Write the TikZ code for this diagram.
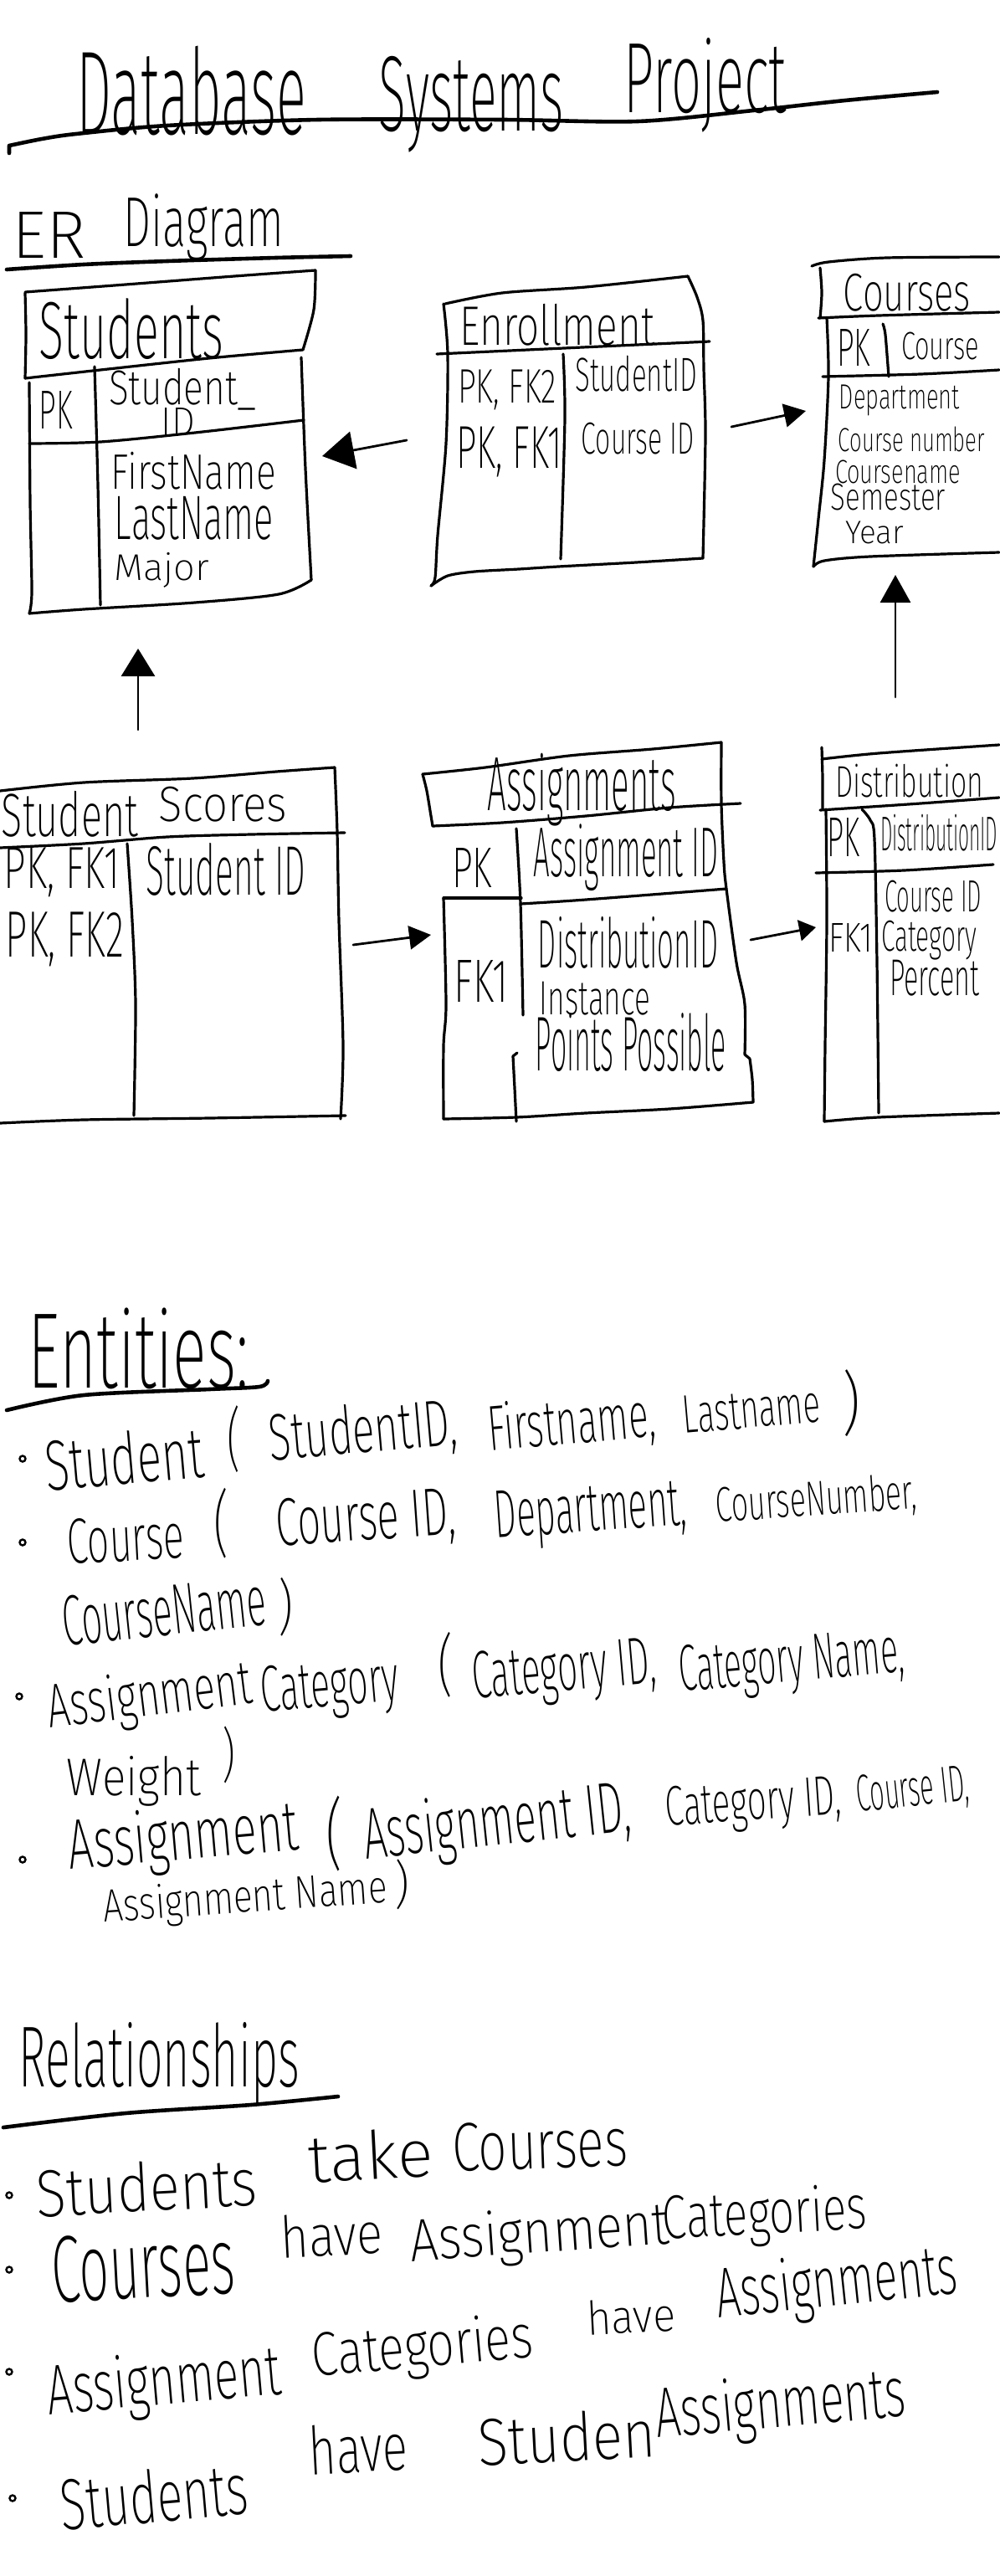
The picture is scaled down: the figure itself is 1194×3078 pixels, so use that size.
\documentclass[tikz,border=0pt]{standalone}
\usepackage{graphicx}
\usepackage{fontspec}
\usetikzlibrary{arrows.meta}
\newfontfamily\hand{Fira Sans ExtraLight}
% a word set in the hand font and stretched to a given box (width, total height)
\newcommand\hw[3]{\resizebox*{#1pt}{#2pt}{\hand #3}}
% \word{name}{centre}{width}{height}{rotation}{text}
\newcommand\word[6]{\node[txt,rotate=#5] (#1) at (#2) {\hw{#3}{#4}{#6}};}

\begin{document}
\begin{tikzpicture}[x=1pt,y=-1pt,
  pen/.style={line width=3.2pt, line cap=round, line join=round},
  rule/.style={line width=4.6pt, line cap=round, line join=round},
  txt/.style={inner sep=0pt, outer sep=0pt},
  link/.style 2 args={line width=2.8pt, line cap=round,
    -{Triangle[length=#1pt,width=#2pt]}},
  bullet/.style={circle, draw, line width=2.4pt, minimum size=7pt, inner sep=0pt},
  sm/.style={smooth, tension=0.5}]

\fill[white] (0,0) rectangle (1194,3078);
\useasboundingbox (0,0) rectangle (1194,3078);

% ---------------- title ----------------
\word{tdb}{228.5,108.5}{275}{107}{0}{Database}
\word{tsy}{563.5,124.5}{221}{115}{0}{Systems}
\word{tpr}{843,101.5}{194}{113}{0}{Project}
\draw[rule] (11,183) -- (11,174)
  plot[sm] coordinates {(11,174) (50,166) (91,160) (200,150) (381,143) (600,143) (762,145) (900,132) (1010,120) (1120,110)};

\word{ter}{59,280.5}{88}{55}{0}{ER}
\word{tdi}{243.5,272}{191}{80}{0}{Diagram}
\draw[rule] plot[sm] coordinates {(8,322) (100,316) (200,312) (330,308) (419,306)};

% ---------------- Students ----------------
\draw[pen] plot[sm] coordinates {(30,349) (150,340) (280,330) (377,323)};
\draw[pen] plot[sm] coordinates {(377,323) (375,370) (362,418)};
\draw[pen] plot[sm] coordinates {(362,418) (250,428) (120,442) (30,452)};
\draw[pen] plot[sm] coordinates {(30,452) (31,400) (30,350)};
\draw[pen] plot[sm] coordinates {(35,457) (36,600) (38,707) (35,733)};
\draw[pen] plot[sm] coordinates {(360,427) (365,560) (372,693)};
\draw[pen] plot[sm] coordinates {(35,733) (100,728) (233,720) (333,710) (372,693)};
\draw[pen] plot[sm] coordinates {(113,438) (117,580) (120,723)};
\draw[pen] plot[sm] coordinates {(35,530) (120,528) (233,517) (363,502)};
\word{stn}{157,393.5}{220}{73}{0}{Students}
\word{stpk}{67,489.5}{40}{45}{0}{PK}
\word{stid1}{218.5,465}{177}{50}{0}{Student\_}
\word{stid2}{213,503.5}{40}{33}{0}{ID}
\word{stfn}{231.5,562.5}{197}{45}{0}{FirstName}
\word{stln}{232,619}{190}{52}{0}{LastName}
\word{stmj}{193.5,681}{113}{42}{0}{Major}

% ---------------- Enrollment ----------------
\draw[pen] plot[sm] coordinates {(532,363) (600,350) (700,343) (822,330)};
\draw[pen] plot[sm] coordinates {(822,330) (833,355) (840,383) (841,440) (843,520) (840,667)};
\draw[pen] (522,423) -- (848,408);
\draw[pen] plot[sm] coordinates {(530,363) (535,423) (533,530) (523,640) (520,690) (515,700)};
\draw[pen] plot[sm] coordinates {(515,700) (535,688) (567,683) (620,680) (667,677) (760,672) (840,667)};
\draw[pen] plot[sm] coordinates {(673,423) (675,500) (670,668)};
\word{enn}{666,388}{232}{50}{0}{Enrollment}
\word{enk1}{606,466}{118}{48}{0}{PK, FK2}
\word{enk2}{608.5,540}{127}{60}{0}{PK, FK1}
\word{ena1}{760.5,446.5}{145}{43}{0}{StudentID}
\word{ena2}{762.5,524}{135}{38}{0}{Course ID}

% ---------------- Courses ----------------
\draw[pen] plot[sm] coordinates {(970,318) (990,313) (1060,308) (1194,307)};
\draw[pen] plot[sm] coordinates {(980,320) (982,350) (980,380)};
\draw[pen] plot[sm] coordinates {(978,380) (1050,377) (1194,373)};
\draw[pen] plot[sm] coordinates {(988,380) (990,450) (985,550) (978,620) (972,677)};
\draw[pen] plot[sm] coordinates {(1055,387) (1058,400) (1062,450)};
\draw[pen] plot[sm] coordinates {(983,450) (1100,447) (1194,442)};
\draw[pen] plot[sm] coordinates {(972,677) (985,670) (1040,665) (1194,660)};
\word{con}{1084,349.5}{152}{45}{0}{Courses}
\word{copk}{1020,415}{40}{44}{0}{PK}
\word{coid}{1123.5,413.5}{93}{33}{0}{Course}
\word{coa1}{1075,478.5}{144}{37}{0}{Department}
\word{coa2}{1089.5,525}{175}{30}{0}{Course number}
\word{coa3}{1073,564}{150}{28}{0}{Coursename}
\word{coa4}{1061.5,594}{137}{32}{0}{Semester}
\word{coa5}{1045,636.5}{70}{27}{0}{Year}

% ---------------- Student Scores ----------------
\draw[pen] plot[sm] coordinates {(0,945) (100,935) (230,930) (330,922) (400,917)};
\draw[pen] plot[sm] coordinates {(400,917) (403,995) (405,1100) (410,1250) (407,1337)};
\draw[pen] plot[sm] coordinates {(0,1013) (100,1008) (200,1000) (300,997) (412,995)};
\draw[pen] plot[sm] coordinates {(152,1008) (158,1100) (162,1200) (160,1333)};
\draw[pen] plot[sm] coordinates {(0,1342) (100,1338) (250,1336) (413,1333)};
\word{scn1}{83.5,972.5}{163}{55}{0}{Student}
\word{scn2}{266.5,961}{153}{42}{0}{Scores}
\word{sck1}{74,1042.5}{138}{59}{0}{PK, FK1}
\word{sck2}{77.5,1122.5}{141}{65}{0}{PK, FK2}
\word{sca1}{270,1038.5}{190}{63}{0}{Student ID}

% ---------------- Assignments ----------------
\draw[pen] plot[sm] coordinates {(505,925) (580,917) (680,903) (780,895) (862,887)};
\draw[pen] plot[sm] coordinates {(505,925) (510,945) (515,975) (517,987)};
\draw[pen] plot[sm] coordinates {(517,987) (600,983) (700,975) (800,965) (885,960)};
\draw[pen] plot[sm] coordinates {(862,887) (862,960) (865,1030) (868,1062) (880,1150) (890,1200) (890,1260)}
  -- (896,1265) plot[sm] coordinates {(896,1265) (899,1290) (900,1317)};
\draw[pen] plot[sm] coordinates {(530,1073) (533,1200) (530,1250) (530,1337)};
\draw[pen] plot[sm] coordinates {(617,990) (622,1080) (625,1213)};
\draw[pen] (618,1258) -- (613,1262) -- (615,1300) -- (617,1340);
\draw[pen] (530,1073) -- (623,1073);
\draw[pen] plot[sm] coordinates {(622,1080) (700,1075) (868,1062)};
\draw[pen] plot[sm] coordinates {(530,1337) (617,1335) (700,1330) (800,1325) (900,1317)};
\word{asn}{695.5,943.5}{225}{87}{0}{Assignments}
\word{aspk}{564,1036.5}{48}{47}{0}{PK}
\word{asid}{748,1025}{220}{80}{0}{Assignment ID}
\word{asfk}{575.5,1172}{65}{50}{0}{FK1}
\word{asa1}{750.5,1126}{215}{62}{0}{DistributionID}
\word{asa2}{711,1193}{132}{40}{0}{Instance}
\word{asa3}{754,1245}{228}{70}{0}{Points Possible}

% ---------------- Distribution ----------------
\draw[pen] plot[sm] coordinates {(982,893) (983,930) (983,967)};
\draw[pen] plot[sm] coordinates {(982,907) (1050,900) (1194,890)};
\draw[pen] plot[sm] coordinates {(980,968) (1100,960) (1194,953)};
\draw[pen] plot[sm] coordinates {(987,967) (988,1100) (986,1250) (985,1340)};
\draw[pen] plot[sm] coordinates {(1030,967) (1040,980) (1045,1003) (1048,1150) (1050,1330)};
\draw[pen] plot[sm] coordinates {(975,1043) (1080,1040) (1187,1033)};
\draw[pen] plot[sm] coordinates {(985,1340) (1050,1335) (1194,1330)};
\word{dsn}{1086.5,933}{177}{40}{0}{Distribution}
\word{dspk}{1007.5,1000}{39}{46}{0}{PK}
\word{dsid}{1122,995}{140}{44}{0}{DistributionID}
\word{dsa1}{1115,1071}{116}{38}{0}{Course ID}
\word{dsfk}{1016.5,1120}{53}{34}{0}{FK1}
\word{dsa2}{1110,1123.5}{114}{47}{0}{Category}
\word{dsa3}{1116.5,1168.5}{107}{43}{0}{Percent}

% ---------------- relationship arrows ----------------
\coordinate (enr-w) at (486,526);   \coordinate (stu-e) at (385,545);
\coordinate (enr-e) at (874,510);   \coordinate (crs-w) at (963,491);
\coordinate (scr-n) at (165,872);   \coordinate (stu-s) at (165,775);
\coordinate (dst-n) at (1070,833);  \coordinate (crs-s) at (1070,687);
\coordinate (scr-e) at (422,1129);  \coordinate (asg-w) at (515,1117);
\coordinate (asg-e) at (897,1123);  \coordinate (dst-w) at (975,1108);
\draw[link={38}{45}] (enr-w) -- (stu-e);
\draw[link={26}{28}] (enr-e) -- (crs-w);
\draw[link={33}{40}] (scr-n) -- (stu-s);
\draw[link={33}{36}] (dst-n) -- (crs-s);
\draw[link={26}{28}] (scr-e) -- (asg-w);
\draw[link={20}{25}] (asg-e) -- (dst-w);

% ---------------- Entities ----------------
\word{hent}{165.5,1611.5}{263}{97}{0}{Entities:}
\draw[rule] plot[sm] coordinates {(8,1685) (100,1667) (250,1660) (310,1657) (320,1650)};

\node[bullet] (bl1) at (27,1743) {};
\word{e1}{148,1742}{190}{64}{5}{Student}
\word{e2}{280,1720}{16}{80}{0}{(}
\word{e3}{434,1712}{225}{70}{5}{StudentID,}
\word{e4}{683,1702}{200}{68}{5}{Firstname,}
\word{e5}{898,1684}{165}{45}{5}{Lastname}
\word{e6}{1017,1677}{22}{80}{0}{)}

\node[bullet] (bl2) at (27,1843) {};
\word{e7}{150,1839}{140}{54}{3}{Course}
\word{e8}{265,1820}{18}{84}{0}{(}
\word{e9}{437,1818}{215}{68}{4}{Course ID,}
\word{e10}{706,1810}{230}{72}{4}{Department,}
\word{e11}{975,1793}{240}{52}{4}{CourseNumber,}
\word{e12}{196,1925}{245}{60}{6}{CourseName}
\word{e13}{342,1920}{18}{70}{0}{)}

\node[bullet] (bl3) at (23,2027) {};
\word{e14}{179,2030}{245}{70}{7}{Assignment}
\word{e15}{394,2019}{165}{70}{5}{Category}
\word{e16}{532,1989}{18}{78}{0}{(}
\word{e17}{674,2000}{220}{72}{5}{Category ID,}
\word{e18}{946,1990}{270}{70}{5}{Category Name,}
\word{e19}{160,2128}{160}{60}{0}{Weight}
\word{e20}{274,2097}{16}{68}{0}{)}

\node[bullet] (bl4) at (27,2222) {};
\word{e21}{219,2199}{275}{80}{5}{Assignment}
\word{e22}{400,2191}{20}{90}{0}{(}
\word{e23}{594,2181}{320}{82}{6}{Assignment ID,}
\word{e24}{900,2158}{210}{60}{4}{Category ID,}
\word{e25}{1091,2141}{135}{52}{6}{Course ID,}
\word{e26}{293,2270}{340}{52}{4}{Assignment Name}
\word{e27}{480,2252}{18}{60}{0}{)}

% ---------------- Relationships ----------------
\word{hrel}{190.5,2465}{335}{98}{0}{Relationships}
\draw[rule] plot[sm] coordinates {(4,2542) (150,2525) (300,2515) (404,2505)};

\node[bullet] (bl5) at (11,2623) {};
\word{r1}{175,2613}{265}{60}{3}{Students}
\word{r2}{443,2575}{150}{60}{3}{take}
\word{r3}{645,2563}{210}{58}{2}{Courses}

\node[bullet] (bl6) at (11,2712) {};
\word{r4}{171,2707}{220}{80}{3}{Courses}
\word{r5}{396,2670}{122}{52}{3}{have}
\word{r6}{645,2672}{310}{68}{4}{Assignment}
\word{r7}{914,2649}{245}{70}{3}{Categories}

\node[bullet] (bl7) at (11,2834) {};
\word{r8}{196,2850}{280}{80}{5}{Assignment}
\word{r9}{505,2808}{265}{70}{5}{Categories}
\word{r10}{754,2767}{106}{42}{3}{have}
\word{r11}{1000,2732}{290}{80}{6}{Assignments}

\node[bullet] (bl8) at (15,2985) {};
\word{r12}{184,2982}{225}{65}{5}{Students}
\word{r13}{428,2925}{118}{60}{3}{have}
\word{r14}{677,2912}{213}{60}{3}{Studen}
\word{r15}{933,2877}{300}{80}{5}{Assignments}

\end{tikzpicture}
\end{document}
